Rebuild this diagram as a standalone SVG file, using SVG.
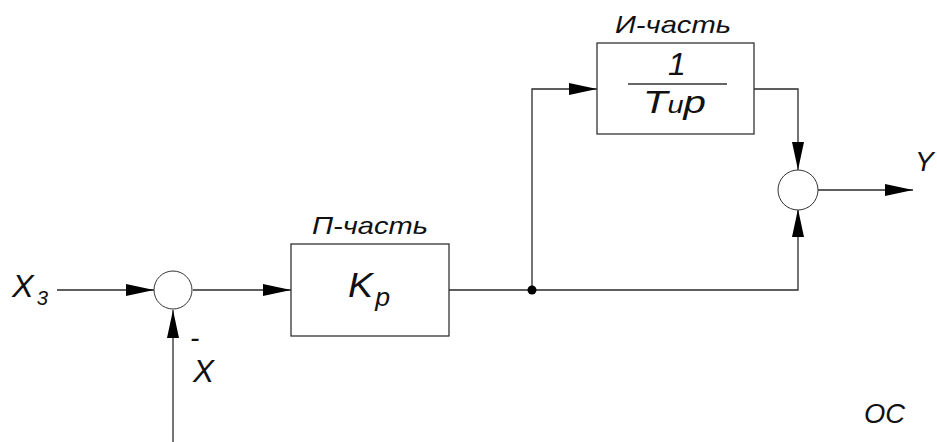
<svg xmlns="http://www.w3.org/2000/svg" width="937" height="442" viewBox="0 0 937 442">
<style>
.ln{fill:none;stroke:#2a2a2a;stroke-width:1.3}
.bx{fill:#fff;stroke:#333;stroke-width:1.3}
.sum{fill:#fff;stroke:#333;stroke-width:1}
.t{font-family:"Liberation Sans",Arial,sans-serif;font-style:italic;fill:#111}
</style>
<defs>
<marker id="ar" markerUnits="userSpaceOnUse" markerWidth="28" markerHeight="12" refX="28" refY="6" orient="auto">
<path d="M0,0 L28,6 L0,12 z" fill="#000"/>
</marker>
</defs>
<rect width="937" height="442" fill="#fff"/>
<g id="connectors">
<line class="ln" x1="57" y1="290" x2="154" y2="290" marker-end="url(#ar)"/>
<line class="ln" x1="193" y1="290" x2="291" y2="290" marker-end="url(#ar)"/>
<line class="ln" x1="173" y1="442" x2="173" y2="310" marker-end="url(#ar)"/>
<polyline class="ln" points="449,290 798,290 798,209" marker-end="url(#ar)"/>
<polyline class="ln" points="532,290 532,89 597,89" marker-end="url(#ar)"/>
<polyline class="ln" points="754,89 798,89 798,170" marker-end="url(#ar)"/>
<line class="ln" x1="818" y1="190" x2="913" y2="190" marker-end="url(#ar)"/>
<circle cx="532" cy="290" r="4.5" fill="#000"/>
</g>
<g id="input">
<text class="t" x="12" y="297" font-size="32" textLength="36" lengthAdjust="spacingAndGlyphs">X<tspan font-size="20" dx="3" dy="8">3</tspan></text>
</g>
<g id="feedback-label">
<text class="t" x="190" y="347" font-size="28">-</text>
<text class="t" x="193" y="382" font-size="31" textLength="21" lengthAdjust="spacingAndGlyphs">X</text>
</g>
<g id="sum1">
<circle class="sum" cx="173" cy="290" r="19"/>
</g>
<g id="p-part">
<text class="t" x="312" y="234" font-size="24" textLength="116" lengthAdjust="spacingAndGlyphs">П-часть</text>
<rect class="bx" x="291" y="244" width="158" height="92"/>
<text class="t" x="348" y="297" font-size="35" textLength="42" lengthAdjust="spacingAndGlyphs">K<tspan font-size="25" dx="2" dy="9">p</tspan></text>
</g>
<g id="i-part">
<text class="t" x="615" y="33" font-size="24" textLength="116" lengthAdjust="spacingAndGlyphs">И-часть</text>
<rect class="bx" x="597" y="43" width="157" height="91"/>
<text class="t" x="677" y="75" font-size="32" text-anchor="middle">1</text>
<line x1="628" y1="84" x2="727" y2="84" stroke="#333" stroke-width="1.3"/>
<text class="t" x="643" y="113" font-size="32" textLength="63" lengthAdjust="spacingAndGlyphs">T<tspan font-size="23">и</tspan><tspan font-size="32">p</tspan></text>
</g>
<g id="sum2">
<circle class="sum" cx="798" cy="190" r="20"/>
</g>
<g id="output">
<text class="t" x="915" y="171" font-size="28">Y</text>
</g>
<g id="oc">
<text class="t" x="864" y="423" font-size="28" textLength="41" lengthAdjust="spacingAndGlyphs">OC</text>
</g>
</svg>
